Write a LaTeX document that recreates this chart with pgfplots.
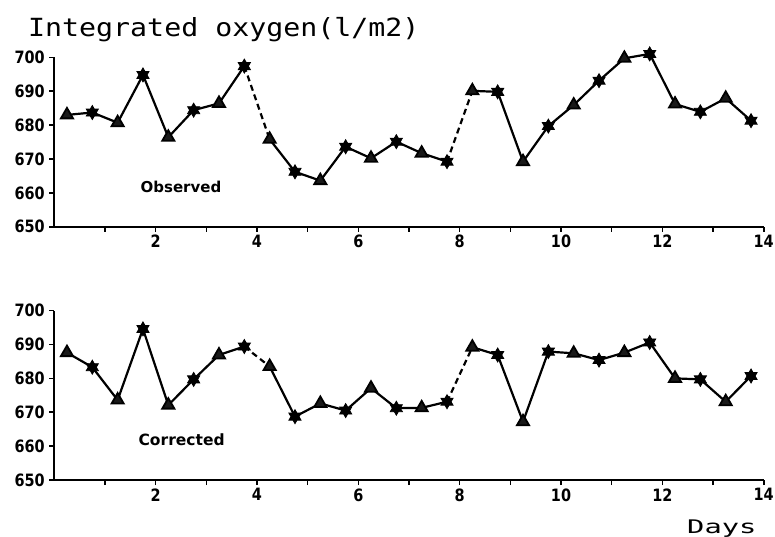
\documentclass[border=0pt]{standalone}
\usepackage{pgfplots}
\pgfplotsset{compat=1.18}
\usepackage{pgfplotstable}
\usepackage{graphicx}
\usepackage{fontspec}
\setmainfont{DejaVu Sans}
\newfontfamily\titlefont{DejaVu Sans Mono}
\newfontfamily\tickfont[FakeStretch=0.85]{DejaVu Sans}

\pgfdeclareplotmark{hexstar}{%
  \pgfpathmoveto{\pgfqpointpolar{90}{\pgfplotmarksize}}%
  \pgfpathlineto{\pgfqpointpolar{210}{\pgfplotmarksize}}%
  \pgfpathlineto{\pgfqpointpolar{330}{\pgfplotmarksize}}%
  \pgfpathclose
  \pgfpathmoveto{\pgfqpointpolar{270}{\pgfplotmarksize}}%
  \pgfpathlineto{\pgfqpointpolar{30}{\pgfplotmarksize}}%
  \pgfpathlineto{\pgfqpointpolar{150}{\pgfplotmarksize}}%
  \pgfpathclose
  \pgfusepathqfillstroke}

\pgfplotstableread{
x     obs    cor    m
0.25  683.0  687.6  t
0.75  683.7  683.3  s
1.25  680.7  673.6  t
1.75  694.8  694.6  s
2.25  676.4  672.1  t
2.75  684.4  679.7  s
3.25  686.4  686.9  t
3.75  697.4  689.4  s
4.25  675.8  683.5  t
4.75  666.2  668.7  s
5.25  663.6  672.6  t
5.75  673.6  670.5  s
6.25  670.2  677.1  t
6.75  675.1  671.2  s
7.25  671.7  671.3  t
7.75  669.2  673.1  s
8.25  690.1  689.2  t
8.75  689.8  686.9  s
9.25  669.2  667.2  t
9.75  679.7  687.9  s
10.25 685.9  687.4  t
10.75 693.1  685.4  s
11.25 699.7  687.6  t
11.75 701.0  690.6  s
12.25 686.2  680.0  t
12.75 683.9  679.7  s
13.25 687.9  673.1  t
13.75 681.3  680.7  s
}\oxtab

\pgfplotsset{
  panel/.style={
    scale only axis, width=709.4pt, height=169.4pt,
    xmin=0, xmax=14, ymin=650, ymax=700,
    enlargelimits=false, clip=false,
    axis x line*=bottom, axis y line*=left,
    axis line style={line width=1.8pt, black},
    xtick={2,4,...,14}, minor xtick={1,3,...,13},
    ytick={650,660,...,700},
    tick align=outside,
    major tick length=5pt, minor tick length=5pt,
    every tick/.style={black, line width=1.6pt},
    /pgf/number format/assume math mode=true,
    tick label style={font=\tickfont\bfseries\fontsize{17}{17}\selectfont},
    yticklabel style={xshift=-1pt},
  },
  seg/.style={black, line width=2.2pt, no marks},
  dseg/.style={black, line width=2.2pt, no marks, dash pattern=on 6pt off 4pt},
  mk/.style={only marks, scatter, scatter src=explicit symbolic,
    scatter/classes={
      t={mark=triangle*, mark size=7pt, fill=black!90, draw=black, line width=1.8pt, mark options={yscale=0.75}},
      s={mark=hexstar, mark size=7pt, fill=black, draw=black, line width=0.8pt}}},
}

\begin{document}
\begin{tikzpicture}
\useasboundingbox (0,0) rectangle (775pt,536pt);

\node[anchor=base west, inner sep=0pt] at (28pt,499pt)
  {\scalebox{1.13}[1]{\titlefont\fontsize{25}{25}\selectfont Integrated oxygen(l/m2)}};
\node[anchor=base west, inner sep=0pt] at (687pt,3pt)
  {\scalebox{1.15}[0.75]{\titlefont\fontsize{25}{25}\selectfont Days}};

% Observed panel
\begin{axis}[panel, at={(54.3pt,309.3pt)}, anchor=south west]
\addplot[seg, restrict x to domain=0:3.8] table[x=x,y=obs]{\oxtab};
\addplot[seg, restrict x to domain=4.2:7.8] table[x=x,y=obs]{\oxtab};
\addplot[seg, restrict x to domain=8.2:14] table[x=x,y=obs]{\oxtab};
\addplot[dseg, restrict x to domain=3.7:4.3] table[x=x,y=obs]{\oxtab};
\addplot[dseg, restrict x to domain=7.7:8.3] table[x=x,y=obs]{\oxtab};
\addplot[mk] table[x=x,y=obs,meta=m]{\oxtab};
\node[anchor=west, inner sep=0pt, font=\bfseries\fontsize{15}{15}\selectfont] at (axis cs:1.70,661.8) {Observed};
\end{axis}

% Corrected panel
\begin{axis}[panel, at={(54.3pt,56pt)}, anchor=south west]
\addplot[seg, restrict x to domain=0:3.8] table[x=x,y=cor]{\oxtab};
\addplot[seg, restrict x to domain=4.2:7.8] table[x=x,y=cor]{\oxtab};
\addplot[seg, restrict x to domain=8.2:14] table[x=x,y=cor]{\oxtab};
\addplot[dseg, restrict x to domain=3.7:4.3] table[x=x,y=cor]{\oxtab};
\addplot[dseg, restrict x to domain=7.7:8.3] table[x=x,y=cor]{\oxtab};
\addplot[mk] table[x=x,y=cor,meta=m]{\oxtab};
\node[anchor=west, inner sep=0pt, font=\bfseries\fontsize{15.5}{15.5}\selectfont] at (axis cs:1.66,661.8) {Corrected};
\end{axis}
\end{tikzpicture}
\end{document}
